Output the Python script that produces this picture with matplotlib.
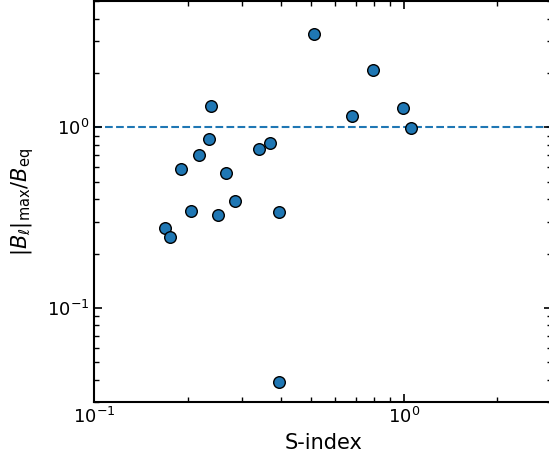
import matplotlib
matplotlib.use("Agg")
import matplotlib.pyplot as plt

# S-index vs. max longitudinal field over equipartition field
s_index = [0.238, 0.235, 0.218, 0.191, 0.267, 0.341, 0.368, 0.285, 0.205, 0.250,
           0.396, 0.169, 0.176, 0.513, 0.795, 0.680, 0.994, 1.057, 0.396]
b_ratio = [1.31, 0.858, 0.705, 0.590, 0.557, 0.755, 0.822, 0.393, 0.346, 0.327,
           0.342, 0.276, 0.246, 3.30, 2.07, 1.156, 1.275, 0.996, 0.0388]

fig = plt.figure(figsize=(5.49, 4.63), dpi=100)
ax = fig.add_axes([0.172, 0.1311, 0.833, 0.8663])

ax.axhline(1.0, color='C0', ls='--', lw=1.5, zorder=1)
ax.scatter(s_index, b_ratio, s=70, color='C0', edgecolor='black', linewidth=1.0, zorder=3)

ax.set_xscale('log')
ax.set_yscale('log')
ax.set_xlim(0.1, 3)
ax.set_ylim(0.03, 5)

ax.set_xlabel('S-index', fontsize=15)
ax.set_ylabel(r'$|B_\ell|_{\rm max}/B_{\rm eq}$', fontsize=15, labelpad=8)

ax.tick_params(which='both', direction='in', top=True, right=True, labelsize=13)
ax.tick_params(which='major', length=6, width=1.2)
ax.tick_params(which='minor', length=3.5, width=1.0)
for sp in ax.spines.values():
    sp.set_linewidth(1.5)

fig.savefig('out.png', dpi=100)
